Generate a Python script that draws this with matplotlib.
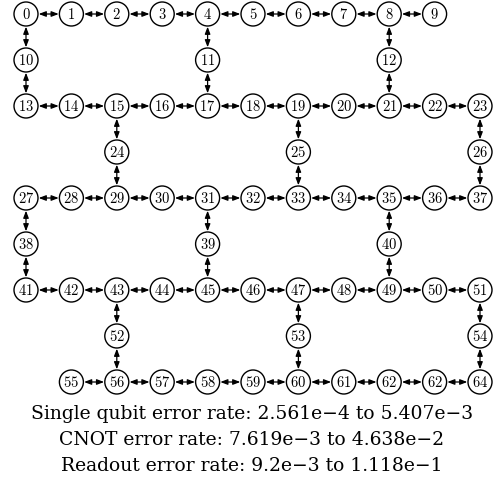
import matplotlib.pyplot as plt
from matplotlib.patches import Circle

plt.rcParams['mathtext.fontset'] = 'cm'

# heavy-hex layout: each row is a list of (label, column)
rows = [
    [('0', 0), ('1', 1), ('2', 2), ('3', 3), ('4', 4), ('5', 5), ('6', 6), ('7', 7), ('8', 8), ('9', 9)],
    [('10', 0), ('11', 4), ('12', 8)],
    [('13', 0), ('14', 1), ('15', 2), ('16', 3), ('17', 4), ('18', 5), ('19', 6), ('20', 7), ('21', 8), ('22', 9), ('23', 10)],
    [('24', 2), ('25', 6), ('26', 10)],
    [('27', 0), ('28', 1), ('29', 2), ('30', 3), ('31', 4), ('32', 5), ('33', 6), ('34', 7), ('35', 8), ('36', 9), ('37', 10)],
    [('38', 0), ('39', 4), ('40', 8)],
    [('41', 0), ('42', 1), ('43', 2), ('44', 3), ('45', 4), ('46', 5), ('47', 6), ('48', 7), ('49', 8), ('50', 9), ('51', 10)],
    [('52', 2), ('53', 6), ('54', 10)],
    [('55', 1), ('56', 2), ('57', 3), ('58', 4), ('59', 5), ('60', 6), ('61', 7), ('62', 8), ('62', 9), ('64', 10)],
]
# vertical links go through the bridge rows (odd rows), by column
notes = [
    'Single qubit error rate: 2.561e\u22124 to 5.407e\u22123',
    'CNOT error rate: 7.619e\u22123 to 4.638e\u22122',
    'Readout error rate: 9.2e\u22123 to 1.118e\u22121',
]

x0, dx = 26, 45.4
y0, dy = 14, 46
r = 12

fig = plt.figure(figsize=(4.95, 4.87), dpi=100)
ax = fig.add_axes([0, 0, 1, 1])
ax.set_xlim(0, 495)
ax.set_ylim(487, 0)
ax.axis('off')

pos = {}
for ri, row in enumerate(rows):
    for lab, c in row:
        pos[(ri, c)] = (x0 + c * dx, y0 + ri * dy)


def link(p, q):
    ax.annotate('', xy=q, xytext=p,
                arrowprops=dict(arrowstyle='<|-|>,head_length=0.42,head_width=0.16',
                                color='black', lw=0.9,
                                shrinkA=r * 0.72 + 0.5, shrinkB=r * 0.72 + 0.5))


for ri, row in enumerate(rows):
    cols = [c for _, c in row]
    if ri % 2 == 0:
        for a, b in zip(cols[:-1], cols[1:]):
            link(pos[(ri, a)], pos[(ri, b)])
    else:
        for c in cols:
            link(pos[(ri - 1, c)], pos[(ri, c)])
            link(pos[(ri, c)], pos[(ri + 1, c)])

for ri, row in enumerate(rows):
    for lab, c in row:
        x, y = pos[(ri, c)]
        ax.add_patch(Circle((x, y), r, fill=False, ec='black', lw=1.0))
        ax.text(x, y + 0.5, '$%s$' % lab, ha='center', va='center', fontsize=10.5)

for i, t in enumerate(notes):
    ax.text(252, 419 + i * 26, t, ha='center', va='baseline',
            fontsize=13.5, family='DejaVu Serif')

fig.savefig('out.png', dpi=100)
